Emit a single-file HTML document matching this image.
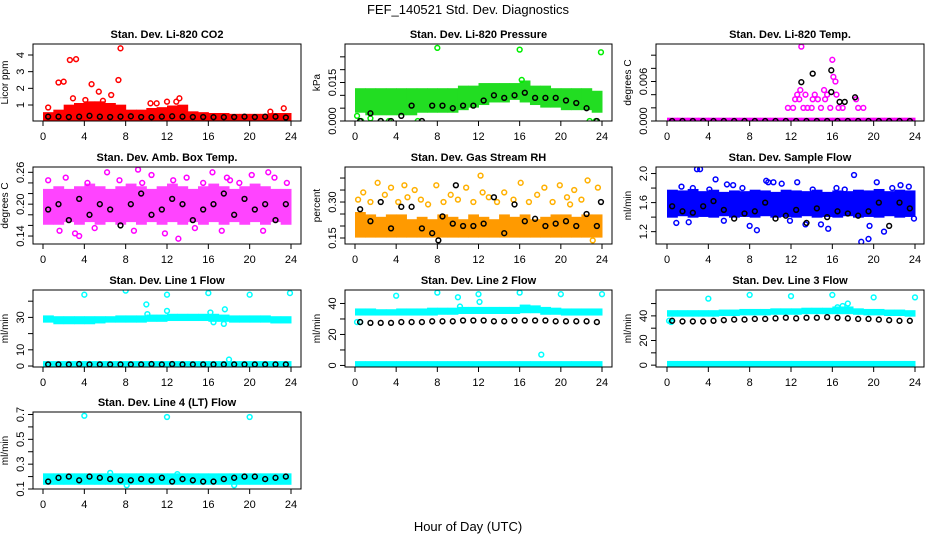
<!DOCTYPE html>
<html><head><meta charset="utf-8"><style>
body{margin:0;background:#fff}
svg{display:block;font-family:"Liberation Sans",Arial,sans-serif}
</style></head><body>
<svg id="chart" width="936" height="540" viewBox="0 0 936 540" xmlns="http://www.w3.org/2000/svg">
<text x="468" y="14" text-anchor="middle" font-size="13">FEF_140521  Std. Dev. Diagnostics</text>
<text x="468" y="531" text-anchor="middle" font-size="13">Hour of Day (UTC)</text>
</svg>
<script>
const HH=[0.5,1.5,2.5,3.5,4.5,5.5,6.5,7.5,8.5,9.5,10.5,11.5,12.5,13.5,14.5,15.5,16.5,17.5,18.5,19.5,20.5,21.5,22.5,23.5];
const xTicks=[0,4,8,12,16,20,24];
// CO2
const co2Lo=[0.15,0.15,0.15,0.15,0.15,0.15,0.15,0.15,0.15,0.15,0.15,0.15,0.15,0.15,0.15,0.15,0.15,0.15,0.15,0.15,0.15,0.15,0.15,0.15];
const co2Hi=[0.45,0.6,0.9,1.0,1.1,1.1,1.0,0.9,0.6,0.6,0.7,0.75,0.85,0.9,0.5,0.45,0.4,0.4,0.35,0.35,0.35,0.35,0.4,0.4];
const co2OutX=[1.5,2,2.6,3.2,4.7,7.3,7.5,5.4,6.6,0.5,2.9,13.2,12,11,23.3,22,4.1,5.8,10.4,12.9];
const co2OutY=[2.35,2.4,3.7,3.75,2.25,2.5,4.4,1.8,1.6,0.85,1.4,1.4,1.2,1.1,0.8,0.6,1.3,1.25,1.1,1.2];
const co2Black=[0.3,0.3,0.28,0.3,0.35,0.3,0.28,0.3,0.32,0.28,0.27,0.3,0.32,0.3,0.28,0.28,0.27,0.27,0.28,0.3,0.28,0.3,0.3,0.25];
// Pressure
const prLo=[0.004,0.003,0.003,0.003,0.003,0.003,0.004,0.004,0.004,0.004,0.005,0.006,0.007,0.008,0.008,0.009,0.008,0.007,0.006,0.006,0.005,0.005,0.005,0.004];
const prHi=[0.012,0.012,0.012,0.012,0.012,0.012,0.012,0.012,0.012,0.012,0.013,0.013,0.014,0.014,0.014,0.014,0.015,0.013,0.013,0.012,0.012,0.012,0.012,0.011];
const prOutX=[8,16,23.9,16.2,0.2,1.5,0.6,2.5,3.3,6.1,22.8,23.4];
const prOutY=[0.0285,0.0278,0.0268,0.016,0.002,0.001,0.0,0.0,0.0,0.0,0.0,0.0];
const prBlack=[0,0.003,0,0,0.002,0.006,0,0.006,0.006,0.005,0.006,0.006,0.008,0.010,0.009,0.010,0.011,0.009,0.009,0.009,0.008,0.007,0.005,0];
// Li-820 Temp
const tpLo=[0,0,0,0,0,0,0,0,0,0,0,0,0,0,0,0,0,0,0,0,0,0,0,0];
const tpHi=[0.0002,0.0002,0.0002,0.0002,0.0002,0.0002,0.0002,0.0002,0.0002,0.0002,0.0002,0.0002,0.0002,0.0002,0.0002,0.0002,0.0002,0.0002,0.0002,0.0002,0.0002,0.0002,0.0002,0.0002];
const tpOutX=[11.7,12.2,12.4,12.6,12.8,13,13.4,13.6,14,14.3,14.6,14.9,15.2,15.5,15.8,16,16.1,16.3,16.4,16.6,17,18.3,18.5,19,12.9,14.1,15.3,13.2];
const tpOutY=[0.002,0.002,0.0033,0.004,0.0033,0.0113,0.004,0.002,0.002,0.004,0.0033,0.002,0.0047,0.004,0.002,0.0093,0.0067,0.006,0.004,0.002,0.002,0.0033,0.002,0.002,0.0047,0.0033,0.0033,0.002];
const tpBlack=[0,0,0,0,0,0,0,0,0,0,0,0,0,0,0,0,0,0,0,0,0,0,0,0];
const tpBlkX=[13,14.1,15.9,15.9,16.7,17.2,18.2];
const tpBlkY=[0.0059,0.0072,0.0077,0.0044,0.0029,0.0029,0.0036];
// Amb box temp
const amLo=[0.165,0.165,0.17,0.165,0.17,0.165,0.17,0.165,0.17,0.165,0.17,0.165,0.17,0.165,0.17,0.165,0.17,0.165,0.17,0.165,0.17,0.165,0.17,0.165];
const amHi=[0.225,0.23,0.225,0.23,0.235,0.23,0.225,0.23,0.235,0.23,0.225,0.23,0.235,0.23,0.225,0.23,0.235,0.23,0.225,0.23,0.235,0.23,0.225,0.225];
const amOutX=[0.5,1.6,2.2,3.1,4.3,5.0,6.2,7.4,8.8,9.6,10.5,11.8,12.6,13.9,14.7,15.5,16.4,17.3,18.1,19.0,20.2,21.3,22.4,23.6,3.5,9.2,13.1,17.8,21.8];
const amOutY=[0.245,0.15,0.25,0.145,0.24,0.155,0.26,0.245,0.15,0.24,0.255,0.145,0.245,0.25,0.155,0.24,0.26,0.15,0.245,0.24,0.255,0.15,0.25,0.24,0.14,0.265,0.135,0.25,0.26];
const amBlack=[0.19,0.2,0.17,0.21,0.18,0.2,0.19,0.16,0.2,0.22,0.18,0.19,0.21,0.2,0.17,0.19,0.2,0.22,0.18,0.21,0.19,0.2,0.17,0.2];
// RH
const rhLo=[0.16,0.16,0.16,0.16,0.16,0.16,0.16,0.16,0.16,0.16,0.16,0.16,0.16,0.16,0.16,0.16,0.16,0.16,0.16,0.16,0.16,0.16,0.16,0.16];
const rhHi=[0.25,0.24,0.23,0.24,0.24,0.22,0.23,0.22,0.24,0.23,0.22,0.24,0.23,0.22,0.24,0.23,0.24,0.22,0.23,0.24,0.24,0.23,0.24,0.24];
const rhOutX=[0.3,0.8,1.5,2.2,2.9,3.5,4.2,5.1,5.8,6.4,7.1,7.9,8.6,9.3,10.0,10.8,11.5,12.2,13.0,13.8,14.5,15.4,16.1,16.9,17.7,18.4,19.2,19.9,20.6,21.3,22.0,22.6,23.1,23.6,12.4,4.8,20.9];
const rhOutY=[0.31,0.34,0.3,0.38,0.33,0.36,0.3,0.32,0.35,0.31,0.29,0.37,0.3,0.33,0.31,0.36,0.3,0.41,0.32,0.3,0.34,0.31,0.38,0.3,0.33,0.36,0.3,0.37,0.32,0.35,0.31,0.39,0.14,0.36,0.34,0.37,0.29];
const rhBlack=[0.27,0.22,0.3,0.19,0.28,0.28,0.19,0.17,0.24,0.21,0.2,0.2,0.21,0.32,0.17,0.29,0.22,0.23,0.2,0.21,0.22,0.2,0.25,0.2];
const rhBlkX=[9.8,23.9,8.1];
const rhBlkY=[0.37,0.3,0.14];
// Sample flow
const sfLo=[1.42,1.44,1.42,1.43,1.42,1.44,1.42,1.43,1.42,1.44,1.42,1.43,1.42,1.44,1.42,1.43,1.42,1.44,1.42,1.43,1.42,1.44,1.42,1.43];
const sfHi=[1.75,1.74,1.76,1.73,1.75,1.72,1.74,1.73,1.75,1.74,1.72,1.75,1.74,1.73,1.75,1.72,1.74,1.73,1.75,1.74,1.76,1.73,1.75,1.74];
const sfOutX=[0.9,1.4,2.1,2.9,3.2,4.1,4.7,5.5,6.4,7.3,8.0,8.7,9.6,10.3,11.1,11.9,12.6,13.4,14.1,14.9,15.6,16.4,17.2,18.1,18.8,19.5,20.3,21.0,21.8,22.6,23.4,23.9,2.5,9.8,19.6,5.8];
const sfOutY=[1.32,1.82,1.33,2.06,2.06,1.78,1.92,1.35,1.84,1.8,1.28,1.22,1.9,1.88,1.86,1.35,1.88,1.3,1.78,1.3,1.24,1.8,1.78,1.98,1.06,1.1,1.88,1.2,1.8,1.84,1.82,1.38,1.8,1.88,1.28,1.85];
const sfBlack=[1.55,1.48,1.46,1.55,1.62,1.5,1.38,1.45,1.48,1.6,1.38,1.42,1.5,1.32,1.52,1.4,1.48,1.45,1.42,1.48,1.6,1.28,1.6,1.52];
// Line 1
const l1Lo=[28,27,27,27,27,27.5,28,28,28,28,28.5,28.5,29,29,29,29,28.5,28.5,28,28,28,28,27.5,27.5];
const l1Hi=[30,29.5,29.5,29.5,29.5,29.5,29.5,30,30,30,30.5,30.5,31,31,31,31,31,30.5,30,30,30,30,29.5,29.5];
const l1BotLo=[0.3,0.3,0.3,0.3,0.3,0.3,0.3,0.3,0.3,0.3,0.3,0.3,0.3,0.3,0.3,0.3,0.3,0.3,0.3,0.3,0.3,0.3,0.3,0.3];
const l1BotHi=[1.8,1.8,1.8,1.8,1.8,1.8,1.8,1.8,1.8,1.8,1.8,1.8,1.8,1.8,1.8,1.8,1.8,1.8,1.8,1.8,1.8,1.8,1.8,1.8];
const l1OutX=[4,8,12,16,20,23.9,10,10.1,12,16.2,17.5,17.6,18,16.5];
const l1OutY=[44,46.5,44,45,44,45,38,32,34,33,26,35,4,27];
const l1Black=[1,1,1,1.2,1,1,1,1,1,1,1.2,1,1.2,1,1,1,1,1,1,1,1,1,1,1];
// Line 2
const l2Lo=[33.5,33.5,33.5,33.5,33.5,33.5,33.5,33.5,34,34,34.5,34.5,34.5,34.5,34.5,34.5,35,35,34,34,33.5,33.5,33.5,33.5];
const l2Hi=[35.5,35.5,35,35,35.5,35.5,35.5,36,36,36,36.5,36.5,36.5,36.5,36.5,36.5,38,37.5,36.5,36,35.5,35.5,35.5,35.5];
const l2BotLo=[0,0,0,0,0,0,0,0,0,0,0,0,0,0,0,0,0,0,0,0,0,0,0,0];
const l2BotHi=[1.5,1.5,1.5,1.5,1.5,1.5,1.5,1.5,1.5,1.5,1.5,1.5,1.5,1.5,1.5,1.5,1.5,1.5,1.5,1.5,1.5,1.5,1.5,1.5];
const l2OutX=[4,8,10,12,12.1,16,20,24,18.1,10.2,0.2,0.5];
const l2OutY=[45,47,44,46,41,47,46,46,7,38,28,28];
const l2Black=[28,27.5,27.5,27.5,28,28,28,28.5,28.5,28.5,29,29,29,28.5,28.5,29,29,29,29,28.5,28.5,28.5,28.5,28];
// Line 3
const l3Lo=[41,41,41,41,41,41.5,41.5,42,42,42,42.5,42.5,42.5,43,43,43,43,43,42.5,42,42,41.5,41.5,41];
const l3Hi=[43,43,43,43,43,43.5,43.5,44,44,44,44.5,44.5,44.5,45,45,45,46,46,44.5,44,44,43.5,43.5,43];
const l3BotLo=[0,0,0,0,0,0,0,0,0,0,0,0,0,0,0,0,0,0,0,0,0,0,0,0];
const l3BotHi=[1.8,1.8,1.8,1.8,1.8,1.8,1.8,1.8,1.8,1.8,1.8,1.8,1.8,1.8,1.8,1.8,1.8,1.8,1.8,1.8,1.8,1.8,1.8,1.8];
const l3OutX=[4,8,12,16,20,24,16.5,17,17.5,0.2,0.4];
const l3OutY=[54,57,56,57,55,55,47,48,50,36,35];
const l3Black=[36,35.5,35.5,35.5,36,36.5,37,37,37.5,37.5,38,38.5,38,38.5,38.5,39,38.5,38,37.5,37.5,37,36.5,36,36];
// Line 4
const l4Lo=[0.15,0.15,0.15,0.15,0.15,0.15,0.15,0.15,0.15,0.15,0.15,0.15,0.15,0.15,0.15,0.15,0.15,0.15,0.15,0.15,0.15,0.15,0.15,0.15];
const l4Hi=[0.21,0.21,0.21,0.21,0.21,0.21,0.21,0.21,0.21,0.21,0.21,0.21,0.21,0.21,0.21,0.21,0.21,0.21,0.21,0.21,0.21,0.21,0.21,0.21];
const l4OutX=[4,12,20,6.5,8.1,18.5,13];
const l4OutY=[0.69,0.68,0.68,0.23,0.13,0.13,0.22];
const l4Black=[0.16,0.19,0.2,0.17,0.2,0.19,0.18,0.17,0.17,0.18,0.17,0.19,0.16,0.18,0.17,0.16,0.16,0.18,0.19,0.2,0.2,0.18,0.19,0.2];

const NS='http://www.w3.org/2000/svg';
const svg=document.getElementById('chart');
function mk(tag,attrs,parent){const e=document.createElementNS(NS,tag);for(const k in attrs)e.setAttribute(k,attrs[k]);(parent||svg).appendChild(e);return e;}

const colX=[{b0:33,b1:301,x0:43,x1:291},{b0:345,b1:612,x0:355,x1:602},{b0:656,b1:924,x0:667,x1:915}];
const rowY=[44,167,290,412];
const BH=77;

function panel(p){
  const c=colX[p.col], top=rowY[p.row], bot=top+BH;
  const g=mk('g',{});
  
  
  const sx=v=>c.x0+(v/24)*(c.x1-c.x0);
  const sy=v=>bot-(v-p.ymin)/(p.ymax-p.ymin)*BH;
  const clip='clip'+p.name;
  const cp=mk('clipPath',{id:clip},g);mk('rect',{x:c.b0,y:top,width:c.b1-c.b0,height:BH},cp);
  const plot=mk('g',{'clip-path':'url(#'+clip+')'},g);
  (p.bands||[]).forEach(b=>{
    HH.forEach((h,i)=>{
      const r=mk('rect',{x:sx(h-0.5),y:sy(b.hi[i])-2,width:sx(1)-sx(0)+0.5,height:Math.max(4,sy(b.lo[i])-sy(b.hi[i])+4),fill:b.fill},plot);
      
      
    });
  });
  (p.pts||[]).forEach(s=>{
    s.x.forEach((xv,i)=>{
      const ci=mk('circle',{cx:sx(xv),cy:sy(s.y[i]),r:2.4,fill:'none',stroke:s.color,'stroke-width':1.5},plot);
      
      
    });
  });
  const box=mk('rect',{x:c.b0,y:top,width:c.b1-c.b0,height:BH,fill:'none',stroke:'#000','stroke-width':1},g);
  
  
  const xa=mk('g',{},g);
  
  
  mk('line',{x1:sx(0),x2:sx(24),y1:bot,y2:bot,stroke:'#000'},xa);
  xTicks.forEach(t=>{
    mk('line',{x1:sx(t),x2:sx(t),y1:bot,y2:bot+5,stroke:'#000'},xa);
    const tx=mk('text',{x:sx(t),y:bot+19,'text-anchor':'middle','font-size':11},xa);tx.textContent=t;
    
    
  });
  const ya=mk('g',{},g);
  
  
  const yt=p.yticks;
  mk('line',{x1:c.b0,x2:c.b0,y1:sy(yt[0]),y2:sy(yt[yt.length-1]),stroke:'#000'},ya);
  yt.forEach((t,i)=>{
    const y=sy(t);
    mk('line',{x1:c.b0-5,x2:c.b0,y1:y,y2:y,stroke:'#000'},ya);
    if(p.ylabels[i]!==''){
      const tx=mk('text',{x:c.b0-9,y:y,'text-anchor':'middle','font-size':11,transform:'rotate(-90 '+(c.b0-9)+' '+y+')'},ya);
      tx.textContent=p.ylabels[i];
      
      
    }
  });
  const yl=c.b0-25, ym=top+BH/2;
  const ylab=mk('text',{x:yl,y:ym,'text-anchor':'middle','font-size':10,transform:'rotate(-90 '+yl+' '+ym+')'},g);
  ylab.textContent=p.ylab;
  
  
  const ti=mk('text',{x:(c.b0+c.b1)/2,y:top-6,'text-anchor':'middle','font-size':11,'font-weight':'bold'},g);
  ti.textContent=p.title;
  
  
}
const K='#000';
panel({name:'co2-panel',col:0,row:0,ymin:0.04,ymax:4.66,yticks:[1,2,3,4],ylabels:['1','2','3','4'],ylab:'Licor ppm',title:'Stan. Dev. Li-820 CO2',
  bands:[{lo:co2Lo,hi:co2Hi,fill:'#ff0000'}],pts:[{x:co2OutX,y:co2OutY,color:'#ff0000'},{x:HH,y:co2Black,color:K}]});
panel({name:'pressure-panel',col:1,row:0,ymin:0,ymax:0.030,yticks:[0,0.005,0.01,0.015,0.02,0.025],ylabels:['0.000','','','0.015','',''],ylab:'kPa',title:'Stan. Dev. Li-820 Pressure',
  bands:[{lo:prLo,hi:prHi,fill:'#22dd22'}],pts:[{x:prOutX,y:prOutY,color:'#00ee00'},{x:HH,y:prBlack,color:K}]});
panel({name:'temp-panel',col:2,row:0,ymin:0,ymax:0.0117,yticks:[0,0.002,0.004,0.006,0.008,0.010],ylabels:['0.000','','','0.006','',''],ylab:'degrees C',title:'Stan. Dev. Li-820 Temp.',
  bands:[{lo:tpLo,hi:tpHi,fill:'#ff00ff'}],pts:[{x:tpOutX,y:tpOutY,color:'#ff00ff'},{x:HH,y:tpBlack,color:K},{x:tpBlkX,y:tpBlkY,color:K}]});
panel({name:'amb-temp-panel',col:0,row:1,ymin:0.125,ymax:0.27,yticks:[0.14,0.16,0.18,0.2,0.22,0.24,0.26],ylabels:['0.14','','','0.20','','','0.26'],ylab:'degrees C',title:'Stan. Dev. Amb. Box Temp.',
  bands:[{lo:amLo,hi:amHi,fill:'#ff44ff'}],pts:[{x:amOutX,y:amOutY,color:'#ff00ff'},{x:HH,y:amBlack,color:K}]});
panel({name:'rh-panel',col:1,row:1,ymin:0.125,ymax:0.446,yticks:[0.15,0.2,0.25,0.3,0.35,0.4],ylabels:['0.15','','','0.30','',''],ylab:'percent',title:'Stan. Dev. Gas Stream RH',
  bands:[{lo:rhLo,hi:rhHi,fill:'#ff9a00'}],pts:[{x:rhOutX,y:rhOutY,color:'#ffb000'},{x:HH,y:rhBlack,color:K},{x:rhBlkX,y:rhBlkY,color:K}]});
panel({name:'sample-flow-panel',col:2,row:1,ymin:1.03,ymax:2.09,yticks:[1.2,1.4,1.6,1.8,2.0],ylabels:['1.2','','1.6','','2.0'],ylab:'ml/min',title:'Stan. Dev. Sample Flow',
  bands:[{lo:sfLo,hi:sfHi,fill:'#0000ff'}],pts:[{x:sfOutX,y:sfOutY,color:'#0000ff'},{x:HH,y:sfBlack,color:K}]});
panel({name:'line1-panel',col:0,row:2,ymin:-0.6,ymax:46.9,yticks:[0,10,20,30,40],ylabels:['0','10','','30',''],ylab:'ml/min',title:'Stan. Dev. Line 1 Flow',
  bands:[{lo:l1Lo,hi:l1Hi,fill:'#00ffff'},{lo:l1BotLo,hi:l1BotHi,fill:'#00ffff'}],pts:[{x:l1OutX,y:l1OutY,color:'#00ffff'},{x:HH,y:l1Black,color:K}]});
panel({name:'line2-panel',col:1,row:2,ymin:-1,ymax:48.7,yticks:[0,10,20,30,40],ylabels:['0','','20','','40'],ylab:'ml/min',title:'Stan. Dev. Line 2 Flow',
  bands:[{lo:l2Lo,hi:l2Hi,fill:'#00ffff'},{lo:l2BotLo,hi:l2BotHi,fill:'#00ffff'}],pts:[{x:l2OutX,y:l2OutY,color:'#00ffff'},{x:HH,y:l2Black,color:K}]});
panel({name:'line3-panel',col:2,row:2,ymin:-1.5,ymax:61,yticks:[0,10,20,30,40,50],ylabels:['0','','20','','40',''],ylab:'ml/min',title:'Stan. Dev. Line 3 Flow',
  bands:[{lo:l3Lo,hi:l3Hi,fill:'#00ffff'},{lo:l3BotLo,hi:l3BotHi,fill:'#00ffff'}],pts:[{x:l3OutX,y:l3OutY,color:'#00ffff'},{x:HH,y:l3Black,color:K}]});
panel({name:'line4-panel',col:0,row:3,ymin:0.1,ymax:0.72,yticks:[0.1,0.2,0.3,0.4,0.5,0.6,0.7],ylabels:['0.1','','0.3','','0.5','','0.7'],ylab:'ml/min',title:'Stan. Dev. Line 4 (LT) Flow',
  bands:[{lo:l4Lo,hi:l4Hi,fill:'#00ffff'}],pts:[{x:l4OutX,y:l4OutY,color:'#00ffff'},{x:HH,y:l4Black,color:K}]});
</script>
</body></html>
